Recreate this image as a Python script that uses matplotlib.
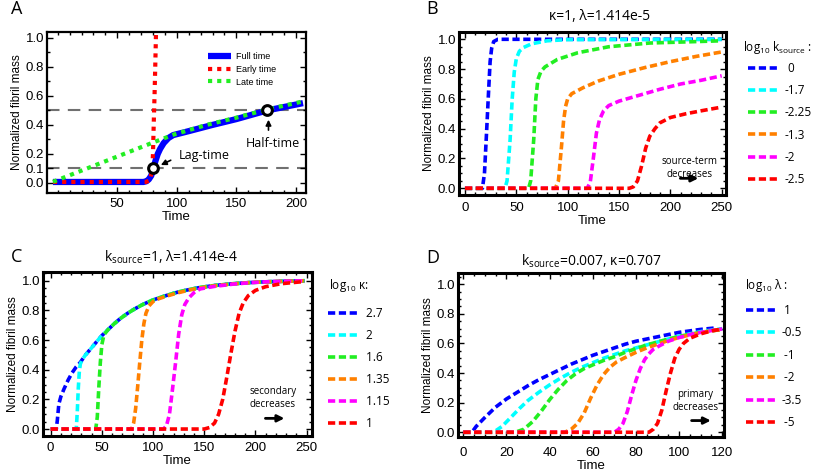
import matplotlib
matplotlib.use('Agg')
import matplotlib.pyplot as plt
from matplotlib.ticker import MultipleLocator, FormatStrFormatter

plt.rcParams['font.family'] = ['Liberation Sans', 'DejaVu Sans']
plt.rcParams['mathtext.default'] = 'regular'

# ---------------- data ----------------
# Panel A
a_full_t = [-4, 72, 74.5, 76.5, 78.5, 80.3, 82, 84, 86, 89, 93, 97, 110, 130, 150, 176, 206]
a_full_v = [0.007, 0.007, 0.012, 0.025, 0.05, 0.095, 0.15, 0.2, 0.235, 0.275, 0.31, 0.33, 0.357, 0.40, 0.44, 0.50, 0.55]
a_early_t = [-4, 74, 76.5, 78, 79.3, 80.0, 80.7, 81.3, 81.9, 82.5]
a_early_v = [0.007, 0.007, 0.015, 0.04, 0.09, 0.2, 0.43, 0.6, 0.8, 1.02]
a_late_t = [-4, 82, 98, 125, 150, 176, 206]
a_late_v = [0.008, 0.285, 0.335, 0.40, 0.45, 0.507, 0.562]
a_lag = (80.3, 0.1)
a_half = (176, 0.5)
a_labels = ['Full time', 'Early time', 'Late time']

# Panel B  (kappa=1, lambda=1.414e-5)
b_labels = [' 0', '-1.7', '-2.25', '-1.3', '-2', '-2.5']
b_t = [
    [0, 17, 19, 21, 23, 24.5, 26, 28, 32, 250],
    [0, 39, 41, 44, 46, 48, 50, 53, 57, 65, 80, 100, 250],
    [0, 62, 64, 67, 69, 71, 74, 78, 90, 110, 140, 180, 250],
    [0, 88, 91, 94, 96, 98, 100, 104, 115, 130, 150, 175, 200, 225, 250],
    [0, 119, 122, 125, 128, 131, 135, 140, 150, 170, 190, 210, 230, 250],
    [0, 160, 164, 168, 172, 176, 180, 185, 190, 200, 215, 230, 250],
]
b_v = [
    [0, 0, 0.1, 0.37, 0.65, 0.85, 0.94, 0.985, 1.0, 1.0],
    [0, 0, 0.05, 0.33, 0.6, 0.78, 0.87, 0.92, 0.945, 0.97, 0.99, 0.998, 1.0],
    [0, 0, 0.05, 0.33, 0.6, 0.73, 0.785, 0.815, 0.865, 0.91, 0.95, 0.975, 0.99],
    [0, 0, 0.05, 0.28, 0.45, 0.55, 0.6, 0.635, 0.675, 0.72, 0.765, 0.81, 0.85, 0.885, 0.915],
    [0, 0, 0.04, 0.2, 0.37, 0.46, 0.52, 0.555, 0.585, 0.625, 0.665, 0.7, 0.725, 0.755],
    [0, 0, 0.01, 0.05, 0.15, 0.27, 0.35, 0.4, 0.44, 0.475, 0.5, 0.52, 0.545],
]

# Panel C  (k_source=1, lambda=1.414e-4)
c_labels = [' 2.7', ' 2', ' 1.6', ' 1.35', ' 1.15', ' 1']
c_t = [
    [0, 5.5, 6.5, 8, 10, 13, 17, 21, 25, 29, 34, 39, 45, 50, 56, 62, 68, 75, 82, 90, 98, 106, 115, 125, 135, 146, 160, 178, 195, 211, 230, 248],
    [0, 25, 26, 27, 28, 29, 31, 34, 39, 45, 50, 56, 62, 68, 75, 82, 90, 98, 106, 115, 125, 135, 146, 160, 178, 195, 211, 230, 248],
    [0, 44, 45.5, 47, 48.5, 50, 52, 56, 62, 68, 75, 82, 90, 98, 106, 115, 125, 135, 146, 160, 178, 195, 211, 230, 248],
    [0, 79, 81, 83, 85, 87, 89, 91, 93, 96, 100, 106, 115, 125, 135, 146, 160, 178, 195, 211, 230, 248],
    [0, 110, 113, 116, 119, 122, 125, 128, 131, 135, 140, 146, 160, 178, 195, 211, 230, 248],
    [0, 150, 155, 160, 164, 168, 172, 176, 180, 184, 188, 193, 200, 210, 225, 248],
]
c_v = [
    [0, 0, 0.06, 0.17, 0.22, 0.27, 0.33, 0.38, 0.42, 0.45, 0.5, 0.54, 0.59, 0.63, 0.67, 0.71, 0.745, 0.78, 0.81, 0.84, 0.865, 0.885, 0.905, 0.925, 0.94, 0.955, 0.968, 0.98, 0.988, 0.993, 0.997, 1.0],
    [0, 0, 0.12, 0.28, 0.39, 0.44, 0.47, 0.5, 0.54, 0.59, 0.63, 0.67, 0.71, 0.745, 0.78, 0.81, 0.84, 0.865, 0.885, 0.905, 0.925, 0.94, 0.955, 0.968, 0.98, 0.988, 0.993, 0.997, 1.0],
    [0, 0, 0.08, 0.28, 0.45, 0.57, 0.635, 0.67, 0.71, 0.745, 0.78, 0.81, 0.84, 0.865, 0.885, 0.905, 0.925, 0.94, 0.955, 0.968, 0.98, 0.988, 0.993, 0.997, 1.0],
    [0, 0, 0.04, 0.14, 0.29, 0.45, 0.6, 0.71, 0.78, 0.83, 0.86, 0.88, 0.9, 0.92, 0.937, 0.952, 0.966, 0.979, 0.988, 0.993, 0.997, 1.0],
    [0, 0, 0.02, 0.1, 0.27, 0.45, 0.64, 0.77, 0.84, 0.885, 0.92, 0.945, 0.962, 0.977, 0.987, 0.993, 0.997, 1.0],
    [0, 0, 0.01, 0.04, 0.1, 0.2, 0.35, 0.51, 0.66, 0.78, 0.85, 0.9, 0.935, 0.96, 0.98, 0.995],
]

# Panel D  (k_source=0.007, kappa=0.707)
d_labels = [' 1', '-0.5', ' -1', ' -2', '-3.5', ' -5']
d_t = [
    [0, 4, 6, 10, 15, 20, 25, 30, 35, 40, 45, 50, 55, 60, 65, 70, 75, 80, 85, 90, 95, 100, 105, 110, 117],
    [0, 12, 15, 18, 22, 26, 30, 35, 40, 45, 50, 55, 60, 65, 70, 75, 80, 85, 90, 95, 100, 105, 110, 115, 120],
    [0, 24, 28, 32, 36, 40, 44, 48, 52, 56, 60, 65, 70, 75, 80, 85, 90, 95, 100, 105, 110, 115, 120],
    [0, 47, 50, 53, 56, 59, 62, 65, 68, 71, 75, 80, 85, 90, 95, 100, 105, 110, 115, 120],
    [0, 70, 72, 74, 76, 78, 80, 82, 84, 86, 88, 91, 95, 100, 105, 110, 115, 120],
    [0, 86, 88, 90, 92, 94, 96, 98, 100, 102, 105, 110, 115, 120],
]
d_v = [
    [0, 0, 0.04, 0.1, 0.17, 0.225, 0.27, 0.315, 0.355, 0.39, 0.425, 0.46, 0.49, 0.52, 0.545, 0.57, 0.595, 0.615, 0.63, 0.645, 0.66, 0.675, 0.685, 0.695, 0.705],
    [0, 0, 0.01, 0.04, 0.1, 0.16, 0.215, 0.27, 0.32, 0.365, 0.405, 0.44, 0.47, 0.5, 0.525, 0.55, 0.57, 0.59, 0.61, 0.63, 0.65, 0.665, 0.68, 0.69, 0.7],
    [0, 0, 0.02, 0.07, 0.14, 0.22, 0.29, 0.35, 0.395, 0.43, 0.455, 0.485, 0.51, 0.54, 0.565, 0.59, 0.61, 0.63, 0.648, 0.662, 0.675, 0.685, 0.695],
    [0, 0, 0.02, 0.06, 0.13, 0.23, 0.32, 0.39, 0.44, 0.475, 0.505, 0.54, 0.57, 0.595, 0.62, 0.64, 0.658, 0.672, 0.685, 0.695],
    [0, 0, 0.02, 0.06, 0.14, 0.25, 0.35, 0.43, 0.49, 0.53, 0.56, 0.585, 0.615, 0.64, 0.66, 0.675, 0.687, 0.698],
    [0, 0, 0.02, 0.06, 0.15, 0.28, 0.4, 0.5, 0.56, 0.6, 0.635, 0.665, 0.685, 0.698],
]

colors6 = ['#0000ff', '#00ffff', '#22ee22', '#ff8000', '#ff00ff', '#ff0000']

# ---------------- figure ----------------
W, H = 813, 473
fig = plt.figure(figsize=(W / 100, H / 100), dpi=100)


def rect(x0, y0, x1, y1):
    return [x0 / W, 1 - y1 / H, (x1 - x0) / W, (y1 - y0) / H]


def fx(px):
    return px / W


def fy(py):
    return 1 - py / H


def style_axes(ax, frame_lw, xpad):
    for s in ax.spines.values():
        s.set_linewidth(frame_lw)
        s.set_color('black')
    ax.tick_params(which='both', direction='in', top=True, right=True,
                   labelsize=9.5, width=1.0)
    ax.tick_params(axis='x', pad=xpad)
    ax.tick_params(axis='y', pad=2)
    ax.tick_params(which='major', length=4)
    ax.tick_params(which='minor', length=2)
    ax.yaxis.set_major_formatter(FormatStrFormatter('%.1f'))


LEG_FONT = {'family': 'Open Sans', 'size': 8.5}
TITLE_FS = 10
LEGT_FS = 8.5

# ---------------- Panel A ----------------
axA = fig.add_axes(rect(47, 32, 306, 193))
axA.axhline(0.1, color='#707070', lw=1.5, ls=(0, (6, 4)), zorder=1)
axA.axhline(0.5, color='#707070', lw=1.5, ls=(0, (6, 4)), zorder=1)
lA1, = axA.plot(a_full_t, a_full_v, color='#0000ff', lw=4.5, solid_capstyle='butt', zorder=2)
lA2, = axA.plot(a_early_t, a_early_v, color='#ff0000', lw=3, ls=(0, (1, 1.2)), zorder=3)
lA3, = axA.plot(a_late_t, a_late_v, color='#22ee22', lw=3, ls=(0, (1, 1.2)), zorder=4)
axA.plot([a_lag[0], a_half[0]], [a_lag[1], a_half[1]], ls='none', marker='o', ms=7,
         mfc='white', mec='black', mew=2.2, zorder=5)
axA.set_xlim(-9, 208.5)
axA.set_ylim(-0.069, 1.04)
axA.set_xticks([50, 100, 150, 200])
axA.set_yticks([0, 0.1, 0.2, 0.4, 0.6, 0.8, 1.0])
axA.xaxis.set_minor_locator(MultipleLocator(10))
axA.yaxis.set_minor_locator(MultipleLocator(0.1))
style_axes(axA, 1.6, 3.3)
axA.set_xlabel('Time', fontsize=9.5, labelpad=1)
axA.set_ylabel('Normalized fibril mass', fontsize=8.5, labelpad=2)
axA.annotate('', xy=(84.5, 0.115), xytext=(97, 0.165),
             arrowprops=dict(arrowstyle='-|>', lw=1.2, color='black', mutation_scale=8))
axA.text(102, 0.19, 'Lag-time', fontsize=9, family='Open Sans', ha='left', va='center')
axA.annotate('', xy=(177, 0.455), xytext=(177, 0.345),
             arrowprops=dict(arrowstyle='-|>', lw=1.2, color='black', mutation_scale=8))
axA.text(181, 0.27, 'Half-time', fontsize=9, family='Open Sans', ha='center', va='center')
axA.legend([lA1, lA2, lA3], a_labels, loc='upper left',
           bbox_to_anchor=(fx(208), fy(52)), bbox_transform=fig.transFigure,
           frameon=False, fontsize=6.5, handlelength=2.6, handletextpad=0.5,
           labelspacing=0.42, borderpad=0, borderaxespad=0)

DASH = (0, (2, 1))

# ---------------- Panel B ----------------
axB = fig.add_axes(rect(459, 32, 726, 195))
linesB = []
for t, v, c in zip(b_t, b_v, colors6):
    l, = axB.plot(t, v, color=c, lw=2.6, ls=DASH)
    linesB.append(l)
axB.set_xlim(-5.8, 254.2)
axB.set_ylim(-0.045, 1.049)
axB.set_xticks([0, 50, 100, 150, 200, 250])
axB.set_yticks([0, 0.2, 0.4, 0.6, 0.8, 1.0])
axB.xaxis.set_minor_locator(MultipleLocator(10))
axB.yaxis.set_minor_locator(MultipleLocator(0.05))
style_axes(axB, 2.2, 5)
axB.set_xlabel('Time', fontsize=9.5, labelpad=1)
axB.set_ylabel('Normalized fibril mass', fontsize=8.5, labelpad=2)
axB.annotate('', xy=(230, 0.067), xytext=(207, 0.067),
             arrowprops=dict(arrowstyle='-|>', lw=2, color='black', mutation_scale=10))
axB.text(219, 0.135, 'source-term\ndecreases', fontsize=7, family='Open Sans',
         ha='center', va='center', linespacing=1.2)
axB.legend(linesB, b_labels, loc='upper left', bbox_to_anchor=(fx(748), fy(62)),
           bbox_transform=fig.transFigure, frameon=False, prop=LEG_FONT,
           handlelength=2.7, handletextpad=0.4, labelspacing=0.78, borderpad=0, borderaxespad=0)
fig.text(fx(743), fy(48), r'log$_{10}$ k$_{source}$ :', fontsize=LEGT_FS, family='Open Sans',
         ha='left', va='center')
fig.text(fx(600), fy(17), 'κ=1, λ=1.414e-5', fontsize=TITLE_FS, family='Open Sans',
         ha='center', va='center')

# ---------------- Panel C ----------------
axC = fig.add_axes(rect(43, 272, 312, 436))
linesC = []
for t, v, c in zip(c_t, c_v, colors6):
    l, = axC.plot(t, v, color=c, lw=2.6, ls=DASH)
    linesC.append(l)
axC.set_xlim(-7.5, 255.2)
axC.set_ylim(-0.047, 1.059)
axC.set_xticks([0, 50, 100, 150, 200, 250])
axC.set_yticks([0, 0.2, 0.4, 0.6, 0.8, 1.0])
axC.xaxis.set_minor_locator(MultipleLocator(10))
axC.yaxis.set_minor_locator(MultipleLocator(0.05))
style_axes(axC, 2.2, 4.3)
axC.set_xlabel('Time', fontsize=9.5, labelpad=1)
axC.set_ylabel('Normalized fibril mass', fontsize=8.5, labelpad=2)
axC.annotate('', xy=(231, 0.072), xytext=(207, 0.072),
             arrowprops=dict(arrowstyle='-|>', lw=2, color='black', mutation_scale=10))
axC.text(217, 0.21, 'secondary\ndecreases', fontsize=7, family='Open Sans',
         ha='center', va='center', linespacing=1.2)
axC.legend(linesC, c_labels, loc='upper left', bbox_to_anchor=(fx(328), fy(307)),
           bbox_transform=fig.transFigure, frameon=False, prop=LEG_FONT,
           handlelength=2.7, handletextpad=0.3, labelspacing=0.76, borderpad=0, borderaxespad=0)
fig.text(fx(329), fy(285), r'log$_{10}$ κ:', fontsize=LEGT_FS, family='Open Sans',
         ha='left', va='center')
fig.text(fx(171), fy(257), r'k$_{source}$=1, λ=1.414e-4', fontsize=TITLE_FS, family='Open Sans',
         ha='center', va='center')

# ---------------- Panel D ----------------
axD = fig.add_axes(rect(458, 273, 724, 437))
linesD = []
for t, v, c in zip(d_t, d_v, colors6):
    l, = axD.plot(t, v, color=c, lw=2.6, ls=DASH)
    linesD.append(l)
axD.set_xlim(-2.45, 120.8)
axD.set_ylim(-0.032, 1.076)
axD.set_xticks([0, 20, 40, 60, 80, 100, 120])
axD.set_yticks([0, 0.2, 0.4, 0.6, 0.8, 1.0])
axD.xaxis.set_minor_locator(MultipleLocator(5))
axD.yaxis.set_minor_locator(MultipleLocator(0.05))
style_axes(axD, 2.2, 7)
axD.set_xlabel('Time', fontsize=9.5, labelpad=1)
axD.set_ylabel('Normalized fibril mass', fontsize=8.5, labelpad=2)
axD.annotate('', xy=(116, 0.079), xytext=(104.5, 0.079),
             arrowprops=dict(arrowstyle='-|>', lw=2, color='black', mutation_scale=10))
axD.text(107.4, 0.21, 'primary\ndecreases', fontsize=7, family='Open Sans',
         ha='center', va='center', linespacing=1.2)
axD.legend(linesD, d_labels, loc='upper left', bbox_to_anchor=(fx(746), fy(304)),
           bbox_transform=fig.transFigure, frameon=False, prop=LEG_FONT,
           handlelength=2.7, handletextpad=0.3, labelspacing=0.8, borderpad=0, borderaxespad=0)
fig.text(fx(745), fy(285), r'log$_{10}$ λ :', fontsize=LEGT_FS, family='Open Sans',
         ha='left', va='center')
fig.text(fx(591), fy(261), r'k$_{source}$=0.007, κ=0.707', fontsize=TITLE_FS, family='Open Sans',
         ha='center', va='center')

# panel letters
for lbl, (px, py) in zip(['A', 'B', 'C', 'D'], [(17, 9), (432, 9), (17, 257), (433, 258)]):
    fig.text(fx(px), fy(py), lbl, fontsize=13, family='Open Sans', ha='center', va='center')

fig.savefig('out.png', dpi=100)
